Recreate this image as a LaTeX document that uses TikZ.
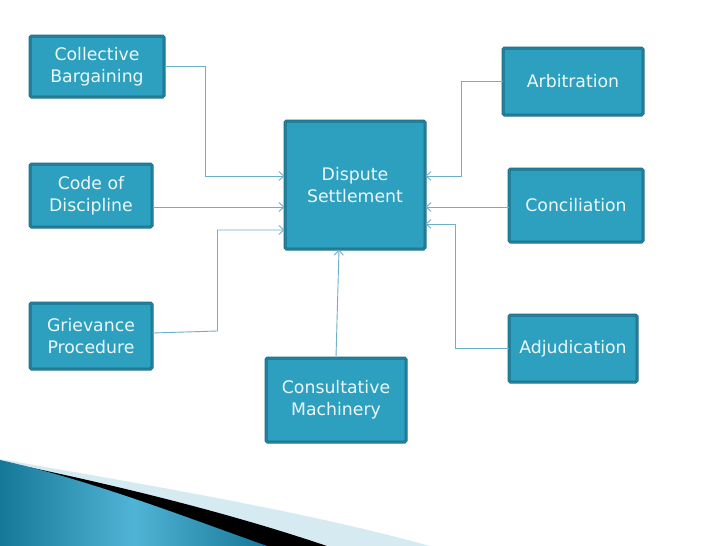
\documentclass[tikz,border=0pt]{standalone}
\usepackage{fontspec}
\setmainfont{DejaVu Sans}
\usetikzlibrary{arrows.meta,calc}
\definecolor{boxfill}{RGB}{44,160,190}
\definecolor{boxdark}{RGB}{30,112,138}
\definecolor{boxmid}{RGB}{36,138,166}
\definecolor{conncol}{RGB}{110,175,202}
\definecolor{txtcol}{RGB}{236,247,250}
\definecolor{lightband}{RGB}{214,234,242}
\definecolor{bluedark}{RGB}{22,120,152}
\definecolor{bluelight}{RGB}{80,180,214}
\tikzset{
  box/.style={rectangle, rounded corners=1.5pt, fill=boxfill, draw=boxdark,
    line width=1pt, double=boxmid, double distance=1pt,
    text=txtcol, align=center, inner sep=0pt,
    font=\fontsize{17.3}{22}\selectfont},
  conn/.style={draw=conncol, line width=0.9pt},
  arr/.style={conn, -{Straight Barb[length=5pt,width=9pt,line width=0.9pt]}}
}
\begin{document}
\begin{tikzpicture}[x=1pt,y=-1pt]
\useasboundingbox (0,0) rectangle (728,546);
\fill[white] (0,0) rectangle (728,546);
% bottom swoosh
\fill[lightband] (0,459) .. controls (130,482) and (300,510) .. (430,546) -- (0,546) -- cycle;
\fill[black] (0,461) .. controls (110,484) and (220,510) .. (327,546) -- (0,546) -- cycle;
\shade[left color=bluedark, right color=bluedark, middle color=bluelight]
  (0,460) .. controls (90,480) and (180,515) .. (267,546) -- (0,546) -- cycle;
% boxes
\node[box, minimum width=134, minimum height=61] (cb) at (97,66.5) {Collective\\Bargaining};
\node[box, minimum width=122, minimum height=63] (cod) at (91,195.5) {Code of\\Discipline};
\node[box, minimum width=122, minimum height=66] (gp) at (91,336) {Grievance\\Procedure};
\node[box, minimum width=140, minimum height=84] (cm) at (336,400) {Consultative\\Machinery};
\node[box, minimum width=140, minimum height=128] (ds) at (355,185) {Dispute\\Settlement};
\node[box, minimum width=140, minimum height=67] (arb) at (573,81.5) {Arbitration};
\node[box, minimum width=134, minimum height=73] (conc) at (576,205.5) {Conciliation};
\node[box, minimum width=128, minimum height=67] (adj) at (573,348.5) {Adjudication};
% target points
\coordinate (dw1) at ($(ds.west)+(0,-9)$);
\coordinate (dw2) at ($(ds.west)+(0,22)$);
\coordinate (dw3) at ($(ds.west)+(0,45)$);
\coordinate (de1) at ($(ds.east)+(0,-9)$);
\coordinate (de2) at ($(ds.east)+(0,22)$);
\coordinate (de3) at ($(ds.east)+(0,39)$);
\coordinate (ds1) at ($(ds.south)+(-16,0)$);
% connectors
\draw[arr] (cb.east) -- ++(41,0) |- (dw1);
\draw[arr] (cod.east |- dw2) -- (dw2);
\draw[arr] ($(gp.east)+(0,-3)$) -- ++(65,-2) |- (dw3);
\draw[arr] (cm.north) -- (ds1);
\draw[arr] (arb.west) -- ++(-41,0) |- (de1);
\draw[arr] (conc.west |- de2) -- (de2);
\draw[arr] (adj.west) -- ++(-53,0) |- (de3);
\end{tikzpicture}
\end{document}
